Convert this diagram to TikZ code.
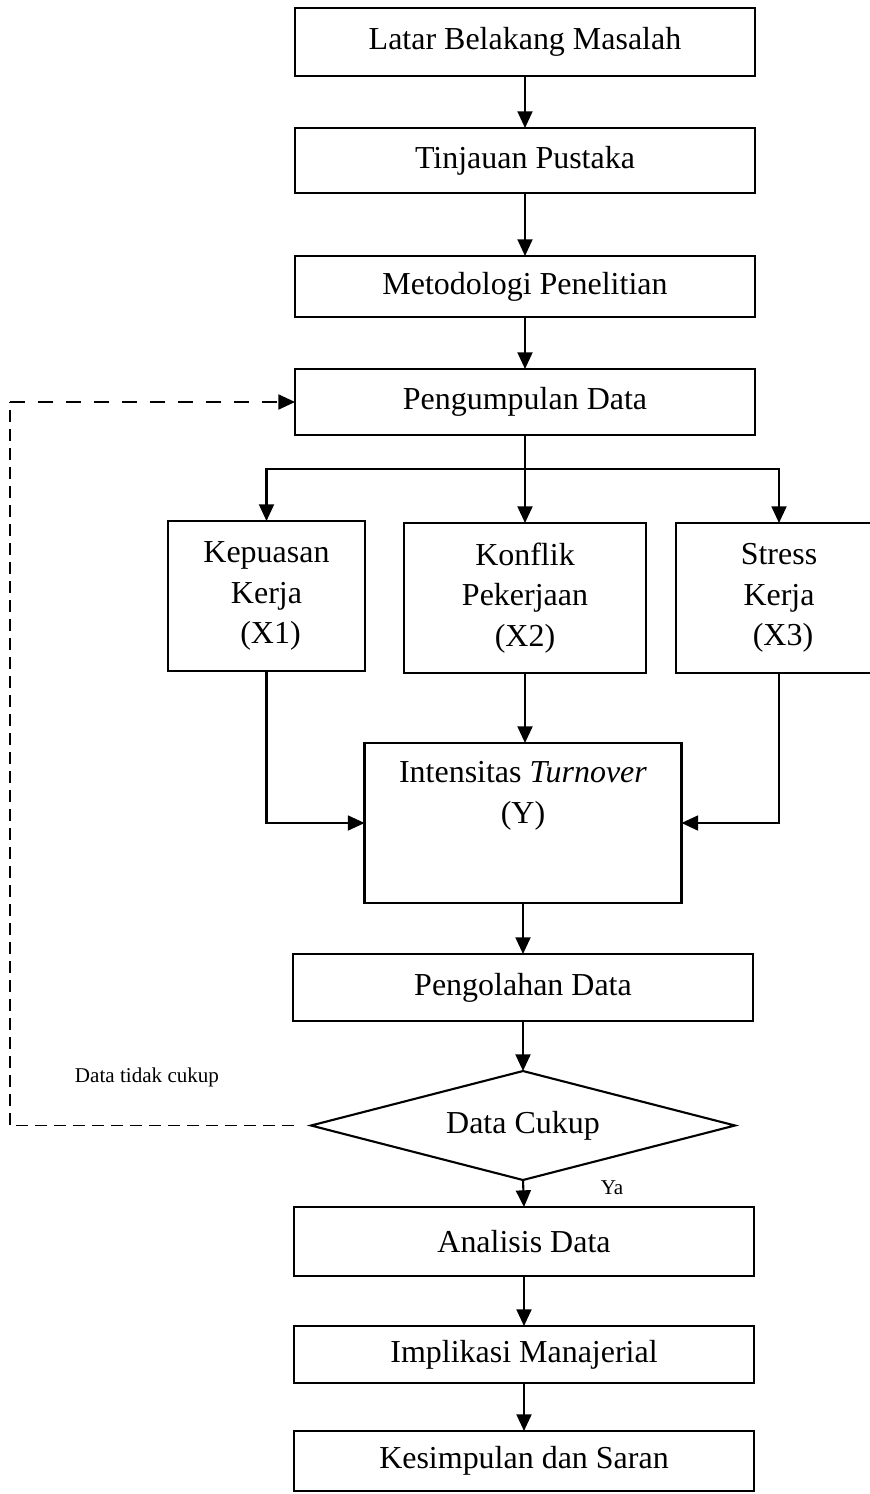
\documentclass[tikz,border=0pt]{standalone}
\usepackage{fontspec}
\setmainfont{Liberation Serif}
\usetikzlibrary{arrows.meta,shapes.geometric}

\begin{document}
\begin{tikzpicture}[x=0.02cm,y=-0.02cm,>={Triangle[length=9.5pt,width=8.5pt]},
  font=\fontsize{18.2}{23}\selectfont,
  box/.style={draw,line width=1.2pt,inner sep=0pt,outer sep=0pt,align=center},
  arr/.style={->,line width=1.2pt},
  thindash/.style={line width=0.9pt,dash pattern=on 0.24cm off 0.14cm},
  thickdash/.style={->,line width=1.3pt,dash pattern=on 0.3cm off 0.26cm},
  small/.style={font=\fontsize{12}{14}\selectfont}]
  \useasboundingbox (0,0) rectangle (869,1494);
  % upper chain
  \node[box,minimum width=9.2cm,minimum height=1.36cm] (latar) at (525,42) {Latar Belakang Masalah};
  \node[box,minimum width=9.2cm,minimum height=1.3cm] (tinjau) at (525,160.5) {Tinjauan Pustaka};
  \node[box,minimum width=9.2cm,minimum height=1.22cm] (metode) at (525,286.5) {Metodologi Penelitian};
  \node[box,minimum width=9.2cm,minimum height=1.32cm] (kumpul) at (525,402) {Pengumpulan Data};
  \foreach \a/\b in {latar/tinjau,tinjau/metode,metode/kumpul}
    \draw[arr] (\a.south) -- (\b.north);
  % variables
  \node[box,minimum width=3.94cm,minimum height=3cm] (x1) at (266.5,596) {Kepuasan\\Kerja\\\ (X1)};
  \node[box,minimum width=4.83cm,minimum height=3cm] (x2) at (525,598) {Konflik\\Pekerjaan\\(X2)};
  \node[box,minimum width=4.12cm,minimum height=3cm] (x3) at (779,598) {Stress\\Kerja\\\ (X3)};
  \coordinate (fork) at (525,469);
  \draw[arr] (kumpul.south) -- (x2.north);
  \draw[arr] (fork) -| (x1.north);
  \draw[arr] (fork) -| (x3.north);
  % dependent variable
  \node[box,minimum width=6.34cm,minimum height=3.2cm] (turn) at (523,823) {};
  \node[align=center] (turntxt) at (523,796) {Intensitas \textit{Turnover}\\(Y)};
  \draw[arr] (x1.south) |- (turn.west);
  \draw[arr] (x2.south) -- (x2.south |- turn.north);
  \draw[arr] (x3.south) |- (turn.east);
  % lower chain
  \node[box,minimum width=9.2cm,minimum height=1.34cm] (olah) at (523,987.5) {Pengolahan Data};
  \node[box,diamond,aspect=3.9,minimum width=8.48cm,minimum height=2.18cm] (cukup) at (523,1125.5) {Data Cukup};
  \node[box,minimum width=9.2cm,minimum height=1.38cm] (analisis) at (524,1241.5) {Analisis Data};
  \node[box,minimum width=9.2cm,minimum height=1.14cm] (impli) at (524,1354.5) {Implikasi Manajerial};
  \node[box,minimum width=9.2cm,minimum height=1.2cm] (simpul) at (524,1461) {Kesimpulan dan Saran};
  \foreach \a/\b in {turn/olah,olah/cukup,cukup/analisis,analisis/impli,impli/simpul}
    \draw[arr] (\a.south) -- (\b.north);
  \node[small] (ya) at (612,1188) {Ya};
  % loop back
  \coordinate (back) at (10,1125.5);
  \coordinate (backtop) at (10,402);
  \draw[thindash,shorten <=0.34cm] (cukup.west) -- (back) -- (backtop);
  \draw[thickdash] (backtop) -- (kumpul.west);
  \node[small] (tidak) at (147,1077) {Data tidak cukup};
\end{tikzpicture}
\end{document}
